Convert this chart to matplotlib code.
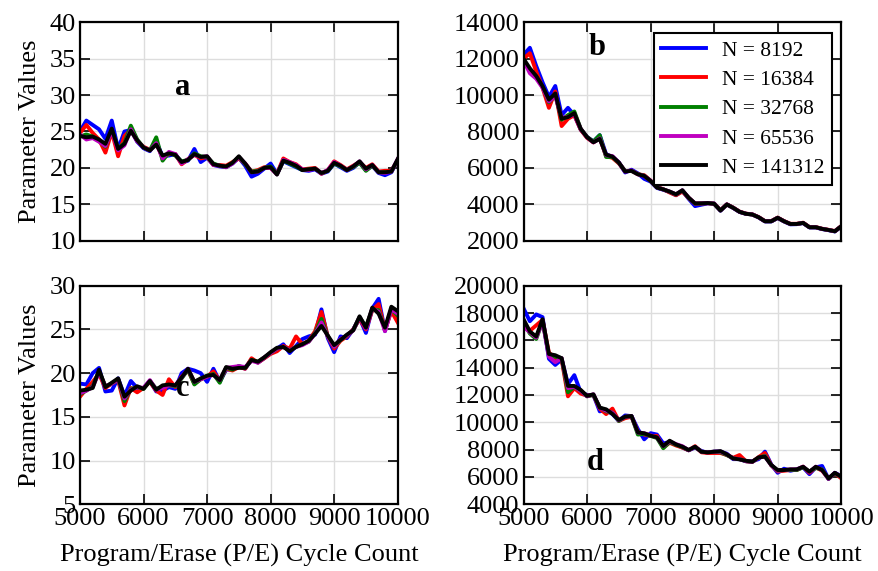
import matplotlib
matplotlib.use("Agg")
import matplotlib.pyplot as plt

plt.rcParams["font.family"] = "Liberation Serif"
plt.rcParams["font.size"] = 19

cycles = list(range(5000, 10001, 100))
sizes = ["N = 8192", "N = 16384", "N = 32768", "N = 65536", "N = 141312"]
colors = ["b", "r", "g", "m", "k"]

# panel a
a_8192 = [25.0, 26.5, 25.9, 25.3, 24.0, 26.5, 22.6, 25.0, 25.2, 23.6,
          22.7, 22.3, 23.6, 21.6, 21.7, 21.9, 20.7, 21.0, 22.6, 20.8,
          21.4, 20.4, 20.2, 20.1, 20.6, 21.4, 20.3, 18.8, 19.2, 19.9,
          20.6, 19.2, 20.9, 20.5, 20.1, 19.7, 19.6, 19.8, 19.2, 19.5,
          20.6, 20.1, 19.6, 20.0, 20.8, 19.7, 20.3, 19.3, 19.0, 19.4,
          21.1]
a_16384 = [24.8, 25.9, 24.8, 23.9, 22.1, 25.0, 21.6, 24.4, 25.2, 23.7,
           22.9, 22.5, 23.4, 21.4, 21.9, 21.9, 20.5, 21.2, 21.8, 21.3,
           21.5, 20.4, 20.4, 20.3, 20.8, 21.3, 20.6, 19.5, 19.7, 20.1,
           20.0, 19.2, 21.3, 20.8, 20.5, 19.8, 19.9, 20.0, 19.2, 19.7,
           20.9, 20.4, 19.8, 20.3, 20.8, 20.0, 20.5, 19.5, 19.6, 19.6,
           21.0]
a_32768 = [24.3, 24.6, 24.3, 23.7, 22.9, 25.2, 22.7, 23.4, 25.8, 23.9,
           22.8, 22.4, 24.2, 21.0, 22.1, 21.7, 20.9, 21.1, 22.0, 21.6,
           21.5, 20.6, 20.3, 20.1, 20.7, 21.5, 20.5, 19.5, 19.6, 20.0,
           20.2, 19.1, 21.0, 20.6, 20.2, 19.7, 19.8, 19.9, 19.3, 19.6,
           20.6, 20.2, 19.7, 20.1, 20.7, 19.6, 20.3, 19.4, 19.4, 19.5,
           21.1]
a_65536 = [24.6, 23.9, 24.1, 23.6, 23.0, 25.1, 22.4, 23.1, 25.3, 23.7,
           22.8, 22.4, 23.4, 21.3, 22.2, 21.9, 20.6, 21.2, 21.8, 21.5,
           21.6, 20.4, 20.3, 20.1, 20.6, 21.5, 20.6, 19.4, 19.5, 20.0,
           20.0, 19.1, 21.1, 20.8, 20.4, 19.8, 19.7, 19.9, 19.3, 19.7,
           20.8, 20.3, 19.7, 20.2, 20.9, 19.8, 20.4, 19.4, 19.3, 19.5,
           21.2]
a_141312 = [24.4, 24.2, 24.3, 23.9, 23.3, 25.4, 22.6, 23.3, 25.1, 23.8,
            22.8, 22.4, 23.2, 21.7, 22.0, 21.8, 20.8, 21.1, 21.9, 21.5,
            21.6, 20.5, 20.3, 20.2, 20.7, 21.6, 20.6, 19.4, 19.5, 20.0,
            20.1, 19.1, 21.0, 20.7, 20.3, 19.7, 19.8, 19.9, 19.3, 19.6,
            20.7, 20.3, 19.7, 20.2, 20.9, 19.9, 20.4, 19.4, 19.4, 19.5,
            21.2]

# panel b
b_8192 = [12200, 12600, 11600, 10700, 9900, 10500, 8900, 9300, 8900, 8100,
          7700, 7450, 7800, 6750, 6600, 6300, 5750, 5900, 5700, 5400,
          5250, 4900, 4800, 4680, 4500, 4750, 4300, 3900, 3980, 4050,
          4050, 3650, 4000, 3800, 3580, 3480, 3450, 3280, 3060, 3060,
          3250, 3060, 2900, 2910, 2970, 2730, 2730, 2640, 2580, 2510,
          2780]
b_16384 = [12000, 12300, 11300, 10400, 9300, 10200, 8300, 8700, 8900, 8100,
           7650, 7400, 7650, 6650, 6550, 6250, 5820, 5850, 5650, 5600,
           5300, 4950, 4830, 4650, 4500, 4700, 4350, 4030, 4050, 4060,
           4040, 3680, 4000, 3820, 3600, 3490, 3450, 3300, 3080, 3080,
           3270, 3080, 2930, 2930, 2990, 2750, 2750, 2660, 2600, 2530,
           2800]
b_32768 = [11900, 11400, 11000, 10450, 9600, 10000, 8650, 8900, 9100, 8150,
           7700, 7450, 7800, 6600, 6600, 6280, 5830, 5830, 5660, 5570,
           5280, 4930, 4820, 4690, 4540, 4760, 4350, 4040, 4050, 4070,
           4030, 3660, 3990, 3810, 3590, 3480, 3440, 3290, 3070, 3070,
           3260, 3070, 2920, 2920, 2980, 2740, 2740, 2650, 2590, 2520,
           2790]
b_65536 = [11900, 11200, 10900, 10400, 9650, 9950, 8750, 8800, 8950, 8150,
           7680, 7400, 7620, 6700, 6650, 6300, 5800, 5850, 5650, 5560,
           5300, 4930, 4820, 4700, 4550, 4770, 4360, 4050, 4050, 4070,
           4030, 3660, 3990, 3810, 3590, 3480, 3440, 3290, 3070, 3070,
           3260, 3070, 2920, 2920, 2980, 2740, 2740, 2650, 2590, 2520,
           2790]
b_141312 = [12000, 11470, 11050, 10490, 9750, 10090, 8700, 8790, 9010, 8150,
            7690, 7410, 7590, 6730, 6620, 6300, 5800, 5840, 5650, 5560,
            5290, 4920, 4820, 4700, 4550, 4770, 4360, 4050, 4050, 4070,
            4030, 3660, 3990, 3810, 3590, 3480, 3440, 3290, 3070, 3070,
            3260, 3070, 2920, 2920, 2980, 2740, 2740, 2650, 2590, 2520,
            2790]

# panel c
c_8192 = [18.8, 18.7, 20.0, 20.6, 17.9, 18.0, 19.4, 17.4, 19.1, 18.3,
          18.3, 19.1, 17.9, 18.0, 18.4, 18.2, 20.0, 20.5, 20.3, 20.0,
          19.0, 20.5, 19.0, 20.4, 20.4, 20.8, 20.5, 21.6, 21.2, 21.7,
          22.3, 22.8, 23.3, 22.3, 23.1, 23.9, 24.2, 24.4, 27.3, 24.0,
          22.4, 24.2, 24.0, 25.0, 26.3, 24.6, 27.4, 28.5, 24.8, 27.4,
          26.5]
c_16384 = [17.3, 18.2, 19.0, 19.9, 18.3, 18.8, 19.2, 16.3, 18.3, 17.8,
           18.3, 19.0, 18.0, 17.5, 19.3, 18.4, 19.6, 20.3, 18.8, 19.3,
           19.6, 20.2, 19.1, 20.5, 20.3, 20.7, 20.5, 21.7, 21.2, 21.7,
           22.2, 22.5, 23.1, 22.8, 24.2, 23.3, 23.7, 24.8, 27.0, 24.2,
           22.8, 23.7, 24.2, 25.0, 26.2, 25.0, 27.2, 27.9, 24.9, 27.1,
           25.8]
c_32768 = [17.6, 18.0, 18.5, 20.2, 18.5, 18.8, 19.3, 16.8, 18.2, 18.4,
           18.2, 19.1, 18.2, 18.4, 18.6, 18.5, 19.4, 20.4, 18.7, 19.3,
           19.7, 19.9, 18.9, 20.6, 20.4, 20.8, 20.6, 21.5, 21.3, 21.8,
           22.3, 22.8, 23.0, 22.6, 23.0, 23.3, 23.6, 24.6, 26.2, 24.2,
           23.0, 23.8, 24.3, 24.9, 26.4, 25.3, 27.3, 27.2, 25.0, 27.3,
           26.6]
c_65536 = [17.7, 18.0, 18.4, 20.1, 18.5, 18.8, 19.3, 17.1, 18.1, 18.4,
           18.3, 19.2, 18.1, 18.3, 18.6, 18.6, 19.5, 20.5, 19.0, 19.3,
           19.6, 19.8, 19.2, 20.6, 20.7, 20.8, 20.7, 21.4, 21.2, 21.8,
           22.3, 22.8, 23.0, 22.6, 23.0, 23.2, 23.6, 24.5, 25.8, 24.2,
           23.0, 23.9, 24.3, 24.9, 26.4, 25.1, 27.4, 27.0, 24.8, 27.3,
           26.8]
c_141312 = [18.0, 18.1, 18.3, 20.4, 18.4, 18.9, 19.4, 17.3, 18.0, 18.5,
            18.2, 19.1, 18.1, 18.6, 18.7, 18.6, 19.5, 20.5, 19.0, 19.4,
            19.7, 19.8, 19.2, 20.7, 20.5, 20.6, 20.6, 21.5, 21.3, 21.8,
            22.4, 22.9, 23.0, 22.5, 23.0, 23.3, 23.7, 24.5, 25.4, 24.3,
            23.2, 23.8, 24.4, 24.9, 26.5, 25.2, 27.5, 26.8, 25.2, 27.6,
            27.1]

# panel d
d_8192 = [18350, 17400, 17900, 17700, 14650, 14200, 14600, 12800, 13450, 12200,
          12000, 12000, 10800, 10900, 10600, 10100, 10500, 10450, 9500, 8750,
          9200, 9100, 8450, 8550, 8350, 8150, 7950, 8150, 7900, 7750,
          7850, 7850, 7700, 7300, 7300, 7150, 7150, 7300, 7850, 6900,
          6300, 6600, 6450, 6550, 6700, 6200, 6700, 6800, 5850, 6300,
          6050]
d_16384 = [17200, 16700, 17100, 17500, 15100, 14700, 14600, 11900, 12500, 12100,
           11950, 12000, 11000, 10600, 11000, 10100, 10300, 10400, 9300, 9100,
           9000, 9000, 8150, 8500, 8300, 8150, 7950, 8250, 7800, 7750,
           7750, 7750, 7600, 7400, 7600, 7150, 7100, 7450, 7750, 6850,
           6400, 6450, 6500, 6500, 6750, 6300, 6700, 6450, 5900, 6250,
           5900]
d_32768 = [17300, 16500, 16100, 17400, 14900, 14800, 14700, 12200, 12600, 12300,
           11900, 12000, 11100, 10800, 10700, 10100, 10400, 10450, 9100, 9150,
           9000, 8850, 8100, 8550, 8350, 8200, 7950, 8200, 7850, 7800,
           7850, 7800, 7600, 7350, 7300, 7150, 7100, 7400, 7550, 6850,
           6450, 6500, 6500, 6500, 6700, 6400, 6650, 6550, 5850, 6250,
           6000]
d_65536 = [17000, 16600, 16200, 17400, 14800, 14400, 14700, 12500, 12600, 12300,
           11900, 12050, 11050, 10850, 10700, 10150, 10400, 10450, 9250, 9200,
           9050, 8900, 8250, 8600, 8400, 8250, 7950, 8200, 7850, 7800,
           7850, 7850, 7650, 7350, 7300, 7150, 7100, 7400, 7500, 6850,
           6450, 6500, 6550, 6550, 6750, 6350, 6750, 6500, 5850, 6300,
           6000]
d_141312 = [17550, 16650, 16280, 17550, 15000, 14910, 14690, 12660, 12660, 12370,
            11930, 12050, 11070, 10950, 10610, 10170, 10410, 10460, 9260, 9190,
            9020, 8900, 8260, 8650, 8380, 8210, 7970, 8210, 7840, 7800,
            7840, 7890, 7650, 7350, 7280, 7180, 7110, 7430, 7480, 6870,
            6500, 6500, 6550, 6550, 6740, 6380, 6740, 6500, 5890, 6300,
            6010]

panels = [
    ("a", [a_8192, a_16384, a_32768, a_65536, a_141312], (10, 40), 5, (0.324, 0.70)),
    ("b", [b_8192, b_16384, b_32768, b_65536, b_141312], (2000, 14000), 2000, (0.23, 0.885)),
    ("c", [c_8192, c_16384, c_32768, c_65536, c_141312], (5, 30), 5, (0.324, 0.53)),
    ("d", [d_8192, d_16384, d_32768, d_65536, d_141312], (4000, 20000), 2000, (0.227, 0.19)),
]

fig, axes = plt.subplots(2, 2, figsize=(8.79, 5.71), dpi=100)
fig.subplots_adjust(left=0.091, right=0.957, top=0.961, bottom=0.117,
                    hspace=0.206, wspace=0.396)

for ax, (letter, series, ylim, ystep, pos) in zip(axes.flat, panels):
    for vals, c, lab in zip(series, colors, sizes):
        ax.plot(cycles, vals, color=c, lw=2.8, label=lab)
    ax.set_xlim(5000, 10000)
    ax.set_ylim(*ylim)
    ax.set_xticks(range(5000, 10001, 1000))
    ax.set_yticks(range(ylim[0], ylim[1] + 1, ystep))
    ax.grid(True, color="#dddddd", lw=1)
    ax.set_axisbelow(True)
    ax.tick_params(direction="in", length=7, width=1.2, top=True, right=True,
                   labelsize=19, pad=3)
    for s in ax.spines.values():
        s.set_linewidth(1.6)
    ax.text(pos[0], pos[1], letter, transform=ax.transAxes, fontsize=22,
            fontweight="bold", ha="center", va="center")

for ax in axes[:, 0]:
    ax.set_ylabel("Parameter Values", fontsize=19, labelpad=6)
for ax in axes[1, :]:
    ax.set_xlabel("Program/Erase (P/E) Cycle Count", fontsize=19, labelpad=10)
for ax in axes[0, :]:
    ax.tick_params(labelbottom=False)

leg = axes[0, 1].legend(loc="upper right", bbox_to_anchor=(0.972, 0.951),
                        borderaxespad=0, fontsize=15.5, fancybox=False,
                        handlelength=2.1, labelspacing=0.43, handletextpad=0.75,
                        borderpad=0.35, framealpha=1)
leg.get_frame().set_edgecolor("black")
leg.get_frame().set_linewidth(1.5)

plt.savefig("out.png", dpi=100)
